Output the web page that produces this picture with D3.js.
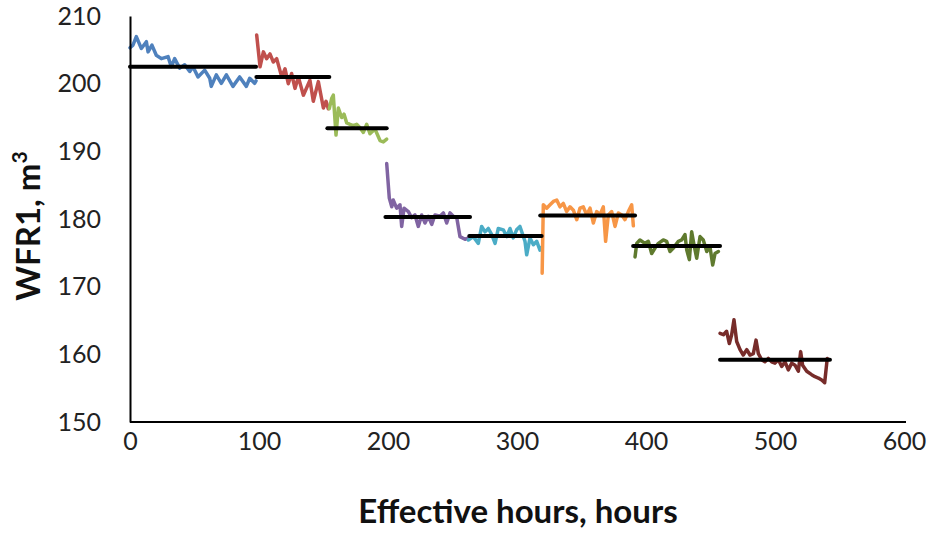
<!DOCTYPE html>
<html>
<head>
<meta charset="utf-8">
<script src="https://cdn.jsdelivr.net/npm/d3@7"></script>
<style>
  html, body { margin: 0; padding: 0; background: #fff; }
  svg { display: block; font-family: Lato, "Open Sans", sans-serif; }
</style>
</head>
<body>
<svg id="chart" width="928" height="534"></svg>
<script>
// ---------- data ----------
const xTicks = [0, 100, 200, 300, 400, 500, 600];
const yTicks = [150, 160, 170, 180, 190, 200, 210];

const blueHours = [0, 2.3, 4.9, 8.8, 12.7, 14, 17, 20.4, 24.3, 29.5, 32, 34.6, 38.5, 42.4, 46.3, 48.8, 52.7, 57.9, 61.8, 63, 66.9, 70.8, 74.7, 79.8, 85, 90.2, 92.8, 96.6, 97.7];
const blueValues = [205.3, 205.7, 206.95, 205.2, 206.2, 204.7, 205.7, 204.2, 203.7, 204, 202.5, 203.7, 202.3, 202.8, 201.8, 202.5, 201, 202, 200.8, 199.6, 201.3, 200.05, 201.3, 199.6, 201, 199.6, 200.8, 200.05, 200.4];

const redHours = [98.2, 100.8, 103.4, 105.9, 108.5, 111.1, 113.7, 117.6, 120.2, 122.7, 125.3, 127.9, 130.5, 134.4, 139.5, 142.1, 146, 149.9, 152, 153.7];
const redValues = [207.2, 202.5, 204.7, 203.7, 204.4, 203.2, 203.7, 201.0, 202.2, 200.0, 201.5, 199.3, 201, 198.3, 200.5, 197.4, 200.3, 196.4, 197.4, 196.3];

const greenHours = [154.5, 156.3, 157.6, 159.7, 161.5, 164.1, 165.9, 168, 170.5, 173.1, 175.7, 178.3, 180.9, 183.5, 186, 189.9, 193.8, 196.4, 199];
const greenValues = [196.3, 197.8, 198.3, 192.4, 196.4, 195, 195.5, 194.2, 194, 193.8, 194, 193.5, 192.8, 194, 192.6, 193.3, 191.6, 191.4, 191.8];

const purpleHours = [199, 201, 202.9, 204.1, 206.7, 209.3, 210.6, 212.4, 215.8, 218.3, 220.9, 223.5, 226.1, 228.7, 231.3, 233.9, 236.4, 240.3, 242.9, 245.5, 248.1, 250.6, 253.3, 255.8, 259.7, 262.3];
const purpleValues = [188.2, 183.1, 181.8, 182.8, 181.6, 182.1, 178.9, 181.6, 181.1, 180.2, 180.6, 178.9, 180.6, 179.4, 180.4, 179.2, 180.6, 180.4, 180.9, 179.4, 180.9, 180.4, 180.2, 177.4, 177.0, 177.2];

const cyanHours = [262.3, 266.1, 270, 272.6, 275.2, 277.8, 280.4, 283, 285.5, 289.4, 292, 294.6, 297.1, 299.7, 302.3, 306.2, 307.5, 310.1, 312.7, 315.3, 317.8, 319.1];
const cyanValues = [176.9, 177.4, 176.4, 178.9, 178.1, 178.6, 177.7, 176.4, 178.6, 178.4, 177.4, 178.6, 177.2, 178.4, 178.9, 176.7, 174.7, 177.2, 176.2, 176.7, 175.4, 175.8];

const orangeHours = [319.5, 320.4, 323, 325.6, 328.2, 330.8, 333.3, 335.9, 338.5, 341.1, 343.7, 346.3, 348.8, 351.4, 354, 356.6, 359.2, 361.8, 364.3, 366.9, 368.7, 370.8, 373.4, 376, 378.6, 381.2, 383.7, 386.3, 388.9, 390.2];
const orangeValues = [172.0, 182.1, 181.6, 182.1, 182.6, 182.8, 181.8, 182.3, 181.1, 181.8, 181.3, 179.9, 181.6, 181.8, 180.6, 181.6, 179.4, 181.1, 180.6, 181.8, 176.7, 180.6, 181.1, 178.9, 180.9, 180.6, 179.9, 181.1, 182.1, 179.0];

const oliveHours = [391.5, 392.8, 395.3, 399.2, 401.8, 404.4, 407, 409.6, 413.4, 416, 418.6, 421.2, 425.1, 427.7, 430.2, 431.6, 433.6, 435.4, 437.2, 439.3, 441.9, 444.4, 447.1, 449.6, 451.7, 453.5, 456.1];
const oliveValues = [174.4, 176.4, 176.9, 176.4, 176.7, 174.9, 175.7, 176.4, 176.9, 176.7, 175.2, 175.7, 176.7, 176.9, 177.7, 175.4, 174.0, 178.1, 176.2, 174.2, 177.4, 176.9, 175.2, 175.9, 173.2, 174.9, 175.2];

const maroonHours = [457.4, 460, 462.5, 464.6, 466.4, 468.2, 470.3, 472.9, 475.4, 478.1, 480.6, 483.2, 485.3, 487.1, 489.7, 492.2, 494.8, 497.4, 500, 502.6, 505.2, 507.8, 510.3, 513, 515.5, 518.1, 519.9, 521.4, 524.6, 528.4, 531, 533.6, 536.2, 538.5, 540.5];
const maroonValues = [163.1, 162.9, 163.4, 161.6, 162.9, 165.1, 161.9, 160.7, 159.9, 160.7, 159.9, 160.1, 162.1, 160.1, 159.2, 158.9, 159.4, 158.9, 158.7, 159.2, 158.2, 158.9, 157.7, 158.7, 158.4, 157.5, 160.4, 158.4, 157.5, 157.0, 156.7, 156.5, 156.2, 155.8, 159.4];

const meanStart = [0, 98, 153, 198, 263, 318, 390, 457.4];
const meanEnd = [97.7, 154.5, 199, 263.6, 319.1, 391.5, 457.4, 542.6];
const meanValues = [202.5, 201.0, 193.4, 180.3, 177.5, 180.5, 176.0, 159.2];

const seriesColors = ["#4F81BD", "#C0504D", "#9BBB59", "#8064A2", "#4BACC6", "#F79646", "#5F7A2E", "#772C2A"];

// ---------- build ----------
const series = [
  [blueHours, blueValues], [redHours, redValues], [greenHours, greenValues],
  [purpleHours, purpleValues], [cyanHours, cyanValues], [orangeHours, orangeValues],
  [oliveHours, oliveValues], [maroonHours, maroonValues]
].map((s, i) => ({ color: seriesColors[i], pts: s[0].map((h, j) => [h, s[1][j]]) }));

const svg = d3.select("#chart");
const x = d3.scaleLinear().domain([0, 600]).range([130, 904]);
const y = d3.scaleLinear().domain([150, 210]).range([422, 16]);

const line = d3.line().x(d => x(d[0])).y(d => y(d[1]));

svg.append("g").selectAll("path").data(series).join("path")
  .attr("d", d => line(d.pts))
  .attr("fill", "none")
  .attr("stroke", d => d.color)
  .attr("stroke-width", 3.5)
  .attr("stroke-linejoin", "round")
  .attr("stroke-linecap", "round");

svg.append("g").selectAll("line").data(meanValues).join("line")
  .attr("x1", (d, i) => x(meanStart[i]))
  .attr("x2", (d, i) => x(meanEnd[i]))
  .attr("y1", d => y(d))
  .attr("y2", d => y(d))
  .attr("stroke", "#000")
  .attr("stroke-width", 4)
  .attr("stroke-linecap", "round");

// axes
const yAxis = svg.append("g").attr("transform", "translate(130,0)")
  .call(d3.axisLeft(y).tickValues(yTicks).tickSize(0).tickPadding(29).tickFormat(d3.format("d")));
const xAxis = svg.append("g").attr("transform", "translate(0,422)")
  .call(d3.axisBottom(x).tickValues(xTicks).tickSize(0).tickPadding(10).tickFormat(d3.format("d")));

[yAxis, xAxis].forEach(g => {
  g.select(".domain").attr("stroke", "#000").attr("stroke-width", 2);
  g.selectAll("text").attr("font-size", 25).attr("fill", "#222")
    .attr("font-family", "Lato, 'Open Sans', sans-serif");
});
xAxis.select(".domain").attr("d", "M130,0H906");

// titles
svg.append("text")
  .attr("x", 518).attr("y", 523)
  .attr("text-anchor", "middle")
  .attr("font-size", 33).attr("font-weight", "bold").attr("fill", "#111")
  .text("Effective hours, hours");

const yt = svg.append("text")
  .attr("transform", "translate(40,226) rotate(-90)")
  .attr("text-anchor", "middle")
  .attr("font-size", 33).attr("font-weight", "bold").attr("fill", "#111");
yt.append("tspan").text("WFR1, m");
yt.append("tspan").attr("font-size", 21).attr("dy", -13).text("3");
</script>
</body>
</html>
